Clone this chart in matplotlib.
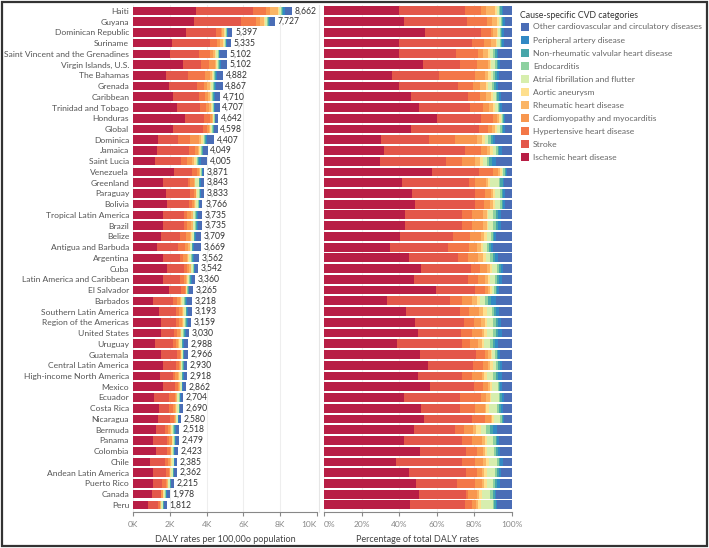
import numpy as np
import matplotlib
matplotlib.use("Agg")
import matplotlib.pyplot as plt
from matplotlib.patches import Rectangle

plt.rcParams['font.family'] = ['Lato', 'DejaVu Sans']

locations = ["Haiti", "Guyana", "Dominican Republic", "Suriname", "Saint Vincent and the Grenadines",
             "Virgin Islands, U.S.", "The Bahamas", "Grenada", "Caribbean", "Trinidad and Tobago",
             "Honduras", "Global", "Dominica", "Jamaica", "Saint Lucia", "Venezuela", "Greenland",
             "Paraguay", "Bolivia", "Tropical Latin America", "Brazil", "Belize", "Antigua and Barbuda",
             "Argentina", "Cuba", "Latin America and Caribbean", "El Salvador", "Barbados",
             "Southern Latin America", "Region of the Americas", "United States", "Uruguay", "Guatemala",
             "Central Latin America", "High-income North America", "Mexico", "Ecuador", "Costa Rica",
             "Nicaragua", "Bermuda", "Panama", "Colombia", "Chile", "Andean Latin America",
             "Puerto Rico", "Canada", "Peru"]

totals = [8662, 7727, 5397, 5335, 5102, 5102, 4882, 4867, 4710, 4707, 4642, 4598, 4407, 4049, 4005,
          3871, 3843, 3833, 3766, 3735, 3735, 3709, 3669, 3562, 3542, 3360, 3265, 3218, 3193, 3159,
          3030, 2988, 2966, 2930, 2918, 2862, 2704, 2690, 2580, 2518, 2479, 2423, 2385, 2362, 2215,
          1978, 1812]

# share of total DALY rate (%) per cause, same row order as locations
ihd = [39.7, 42.6, 53.7, 40.1, 39.7, 53.0, 36.0, 40.1, 46.1, 50.4, 60.3, 46.5, 30.5, 31.9, 29.8, 57.6,
       41.5, 46.8, 48.2, 43.1, 43.3, 40.4, 35.1, 45.4, 51.4, 47.9, 59.4, 33.3, 43.6, 48.4, 49.8, 38.8,
       51.1, 55.1, 49.8, 56.4, 42.6, 51.6, 53.2, 48.2, 42.6, 51.1, 38.1, 45.4, 48.9, 50.4, 45.7]
stroke = [35.5, 33.7, 30.0, 38.7, 30.5, 19.3, 25.2, 31.4, 30.5, 27.3, 23.0, 35.8, 25.4, 43.1, 35.1, 24.8,
          35.6, 33.5, 32.1, 30.5, 30.3, 28.4, 30.9, 26.1, 26.6, 28.5, 20.9, 33.7, 28.7, 26.1, 23.0, 34.4,
          29.8, 24.3, 23.4, 23.6, 30.1, 21.1, 25.4, 21.5, 31.0, 24.5, 35.5, 30.0, 21.6, 25.0, 29.4]
hypertensive = [8.2, 10.3, 5.0, 6.7, 11.7, 9.2, 19.1, 7.6, 6.7, 6.7, 6.4, 4.9, 13.8, 8.3, 8.7, 7.6,
                3.2, 5.7, 5.0, 5.3, 5.4, 8.9, 11.0, 5.0, 5.0, 5.3, 5.3, 6.6, 5.0, 5.3, 5.7, 4.4,
                4.8, 5.3, 5.3, 4.8, 10.8, 7.6, 7.1, 4.8, 5.3, 6.0, 6.7, 6.2, 9.8, 1.4, 3.9]
cardiomyopathy = [2.8, 2.7, 1.4, 3.2, 2.8, 5.9, 5.3, 3.9, 3.2, 3.5, 2.1, 2.1, 11.5, 3.2, 6.7, 2.7,
                  6.2, 2.7, 3.0, 5.9, 5.8, 5.7, 4.6, 5.7, 3.5, 3.9, 1.8, 5.5, 5.3, 4.1, 5.3, 4.4,
                  1.8, 2.7, 5.3, 2.7, 3.0, 5.3, 3.0, 5.0, 5.3, 2.8, 4.4, 2.3, 3.5, 4.4, 1.8]
rheumatic = [4.8, 2.7, 1.8, 2.7, 2.7, 0.9, 1.8, 3.0, 2.5, 1.8, 1.4, 1.6, 2.7, 2.1, 2.7, 0.9,
             0.9, 1.1, 1.4, 1.8, 1.8, 2.0, 2.0, 2.3, 1.8, 1.8, 1.2, 2.5, 2.1, 1.8, 1.2, 1.8,
             1.2, 1.2, 1.2, 0.9, 1.8, 0.9, 0.9, 1.8, 1.4, 1.2, 1.8, 1.4, 1.2, 1.1, 1.4]
aortic = [0.9, 1.1, 0.9, 0.9, 0.9, 0.9, 1.2, 1.4, 1.1, 1.2, 0.7, 1.2, 1.8, 1.1, 1.8, 0.9,
          0.9, 1.2, 1.1, 0.9, 0.9, 1.2, 1.2, 1.6, 1.1, 1.1, 0.7, 1.4, 1.8, 1.4, 1.4, 1.4,
          0.9, 1.1, 1.4, 0.9, 0.9, 1.4, 0.9, 2.3, 1.2, 1.2, 1.4, 1.2, 1.4, 1.6, 1.6]
atrial = [1.2, 1.2, 0.9, 1.4, 1.8, 1.8, 1.4, 1.8, 1.4, 1.4, 0.7, 1.4, 1.8, 1.6, 1.8, 0.9,
          4.8, 2.7, 2.8, 2.7, 2.7, 2.1, 1.8, 2.3, 2.5, 2.5, 1.1, 2.7, 2.7, 2.7, 3.2, 3.0,
          1.4, 1.8, 3.5, 3.2, 3.9, 4.3, 3.2, 3.0, 3.2, 3.5, 4.3, 4.4, 3.2, 4.4, 5.9]
endocarditis = [0.7, 0.7, 0.7, 0.7, 1.1, 0.9, 0.9, 1.2, 0.9, 0.7, 0.7, 0.9, 1.2, 1.1, 1.4, 0.9,
                0.9, 0.9, 0.9, 1.4, 1.4, 1.1, 1.2, 1.4, 1.2, 1.2, 1.1, 1.8, 1.2, 1.6, 1.6, 1.4,
                0.9, 1.2, 1.4, 0.7, 0.9, 1.1, 0.9, 1.8, 1.2, 1.4, 0.9, 1.2, 1.2, 1.4, 0.9]
valvular = [0.7, 0.5, 0.5, 0.5, 0.7, 0.9, 0.9, 1.1, 0.9, 0.7, 0.4, 0.7, 1.1, 0.9, 1.2, 0.5,
            1.1, 0.7, 0.7, 0.9, 0.9, 0.7, 0.9, 1.2, 0.9, 0.9, 0.7, 1.2, 1.1, 1.1, 1.1, 1.2,
            0.9, 0.9, 1.2, 0.5, 0.7, 0.9, 0.5, 1.8, 0.9, 0.9, 0.9, 0.9, 1.2, 1.2, 0.7]
peripheral = [0.7, 0.9, 0.7, 0.9, 0.7, 0.9, 1.2, 1.2, 0.9, 0.9, 0.5, 0.9, 1.2, 1.2, 2.3, 0.7,
              0.7, 0.9, 0.9, 1.6, 1.6, 1.1, 1.4, 1.8, 1.4, 1.4, 1.1, 2.7, 1.8, 1.6, 2.1, 1.8,
              0.9, 0.9, 1.8, 0.9, 1.1, 1.1, 0.5, 1.8, 1.1, 0.9, 1.1, 1.1, 1.4, 0.9, 0.9]
other = [4.8, 3.7, 4.4, 4.3, 7.4, 6.4, 6.9, 7.3, 5.9, 5.3, 3.7, 3.9, 9.0, 5.5, 8.5, 2.5,
         4.3, 3.9, 3.9, 6.0, 6.0, 8.5, 9.9, 7.3, 4.6, 5.5, 6.7, 8.7, 6.7, 6.0, 5.5, 7.3,
         6.4, 5.5, 5.5, 5.5, 4.3, 4.8, 4.4, 8.2, 6.7, 6.4, 5.0, 5.9, 6.4, 8.2, 7.8]

causes = ["Ischemic heart disease", "Stroke", "Hypertensive heart disease",
          "Cardiomyopathy and myocarditis", "Rheumatic heart disease", "Aortic aneurysm",
          "Atrial fibrillation and flutter", "Endocarditis", "Non-rheumatic valvular heart disease",
          "Peripheral artery disease", "Other cardiovascular and circulatory diseases"]
colors = ["#b81e45", "#e3574a", "#f37748", "#f8974f", "#fbb566", "#fedf8e",
          "#d7eeae", "#8dd1a0", "#47a6a9", "#3289c4", "#4a6db6"]

shares = np.array([ihd, stroke, hypertensive, cardiomyopathy, rheumatic, aortic,
                   atrial, endocarditis, valvular, peripheral, other])
shares = shares / shares.sum(axis=0) * 100
rates = shares / 100 * np.array(totals)

n = len(locations)
y = np.arange(n)

fig = plt.figure(figsize=(7.09, 5.48), dpi=100)
ax1 = fig.add_axes([0.188, 0.065, 0.2587, 0.925])
ax2 = fig.add_axes([0.457, 0.065, 0.265, 0.925])

left1 = np.zeros(n)
left2 = np.zeros(n)
for i in range(len(causes)):
    ax1.barh(y, rates[i], left=left1, height=0.8, color=colors[i], linewidth=0)
    ax2.barh(y, shares[i], left=left2, height=0.82, color=colors[i], linewidth=0)
    left1 += rates[i]
    left2 += shares[i]

for yi, t in zip(y, totals):
    ax1.annotate(f"{t:,}", (t, yi), xytext=(2, 0), textcoords="offset points",
                 va="center", ha="left", fontsize=6.2, color="#333333")

ax1.set_xlim(0, 10000)
ax2.set_xlim(0, 100)
for ax in (ax1, ax2):
    ax.set_ylim(n - 0.3, -0.5)
    for s in ("top", "right", "left"):
        ax.spines[s].set_visible(False)
    ax.spines["bottom"].set_color("#888888")
    ax.tick_params(axis="x", colors="#888888", labelsize=6.0, length=3, width=0.8, pad=3)
    ax.tick_params(axis="y", length=0)
    ax.set_axisbelow(True)
    ax.xaxis.grid(True, color="#eeeeee", linewidth=0.8)

ax1.set_xticks([0, 2000, 4000, 6000, 8000, 10000])
ax1.set_xticklabels(["0K", "2K", "4K", "6K", "8K", "10K"])
ax2.set_xticks([0, 20, 40, 60, 80, 100])
ax2.set_xticklabels(["0%", "20%", "40%", "60%", "80%", "100%"])
# nudge the edge labels apart, as in the source
ax1.get_xticklabels()[-1].set_horizontalalignment("right")
ax2.get_xticklabels()[0].set_horizontalalignment("left")
ax1.set_yticks(y)
ax1.set_yticklabels(locations, fontsize=6.1, color="#555555")
ax1.tick_params(axis="y", pad=3)
ax2.set_yticks([])

ax1.set_xlabel("DALY rates per 100,00o population", fontsize=6.5, color="#444444", labelpad=5)
ax2.set_xlabel("Percentage of total DALY rates", fontsize=6.5, color="#444444", labelpad=5)

# separator between the two panels
fig.add_artist(plt.Line2D([319 / 709, 319 / 709], [0.065, 0.99], color="#e6e6e6", lw=0.8))

# legend drawn by hand, top item = last cause
W, H = 709, 548
fig.text(520 / W, 1 - 15 / H, "Cause-specific CVD categories", fontsize=6.3, color="#333333",
         va="center", ha="left")
for k, i in enumerate(range(len(causes) - 1, -1, -1)):
    yc = 27 + k * 13.05
    fig.add_artist(Rectangle((521 / W, 1 - (yc + 3.5) / H), 7.5 / W, 7.5 / H,
                             facecolor=colors[i], edgecolor="none", transform=fig.transFigure))
    fig.text(533 / W, 1 - yc / H, causes[i], fontsize=6.1, color="#666666", va="center", ha="left")

# outer frame
fig.add_artist(Rectangle((2 / W, 2 / H), 705 / W, 544 / H, fill=False, edgecolor="#333333",
                         linewidth=1.6, transform=fig.transFigure))

fig.savefig("out.png", dpi=100)
